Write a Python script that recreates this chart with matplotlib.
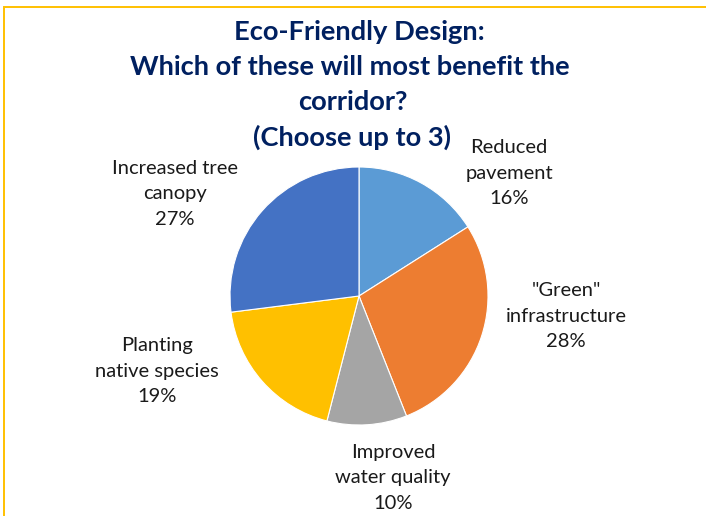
import matplotlib
matplotlib.use("Agg")
import matplotlib.pyplot as plt
from matplotlib.patches import Rectangle

# Survey results
categories = ["Reduced\npavement", "\"Green\"\ninfrastructure", "Improved\nwater quality",
              "Planting\nnative species", "Increased tree\ncanopy"]
shares = [16, 28, 10, 19, 27]
colors = ["#5B9BD5", "#ED7D31", "#A5A5A5", "#FFC000", "#4472C4"]
title_lines = ["Eco-Friendly Design:", "Which of these will most benefit the",
               "corridor?", "(Choose up to 3)"]

W, H = 706, 516
cx, cy, r = 359, 296, 129          # pie centre and radius in pixels

# label anchor points in pixels (centre of each label block)
label_px = [(509, 173), (566, 316), (393, 478), (157, 371), (175, 194)]
title_y = [32, 67, 102, 137]
title_x = [359, 350, 353, 352]

fig = plt.figure(figsize=(W / 100, H / 100), dpi=100)
ax = fig.add_axes([0, 0, 1, 1])

ax.pie(shares, colors=colors, startangle=90, counterclock=False, radius=1,
       center=(0, 0), wedgeprops=dict(edgecolor="white", linewidth=0.8))

ax.set_xlim(-cx / r, (W - cx) / r)
ax.set_ylim(-(H - cy) / r, cy / r)
ax.set_aspect("equal", adjustable="datalim")
ax.axis("off")

def to_data(px, py):
    return (px - cx) / r, (cy - py) / r

for cat, val, (px, py) in zip(categories, shares, label_px):
    x, y = to_data(px, py)
    ax.text(x, y, f"{cat}\n{val}%", ha="center", va="center", fontsize=14.5,
            family="Lato", color="#1a1a1a", linespacing=1.58)

for line, px, py in zip(title_lines, title_x, title_y):
    fig.text(px / W, 1 - py / H, line, ha="center", va="center", fontsize=19.6,
             family="Lato", fontweight="bold", color="#002060")

# frame line along the top and left edges
fig.patches.append(Rectangle((4 / W, -0.1), 1.2, 1 - 7 / H + 0.1,
                             transform=fig.transFigure, fill=False,
                             edgecolor="#FFC000", linewidth=1.4))

fig.savefig("out.png", dpi=100)
